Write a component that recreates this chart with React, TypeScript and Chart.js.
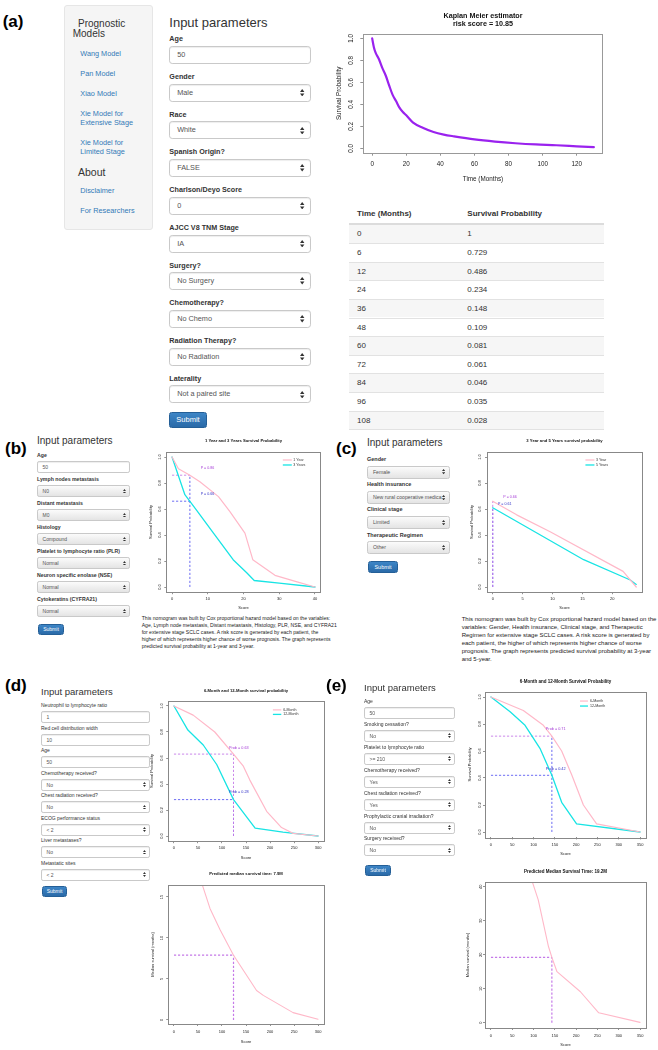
import React, { useEffect, useRef } from "react";
import { Chart, registerables } from "chart.js";

Chart.register(...registerables);

const FONT = "'Liberation Sans', Arial, Helvetica, sans-serif";

// ---------------- DATA ----------------
// (a) Kaplan-Meier estimate
const kmMonths = [0, 1, 2, 4, 6, 8, 10, 12, 14, 16, 18, 20, 24, 30, 36, 42, 48, 60, 72, 84, 96, 108, 120, 130];
const kmSurvival = [1, 0.92, 0.87, 0.81, 0.729, 0.66, 0.57, 0.486, 0.43, 0.37, 0.33, 0.3, 0.234, 0.185, 0.148, 0.125, 0.109, 0.081, 0.061, 0.046, 0.035, 0.028, 0.018, 0.01];
const kmXTicks = [0, 20, 40, 60, 80, 100, 120];
const probTicks = [0, 0.2, 0.4, 0.6, 0.8, 1.0];
const tableMonths = ["0", "6", "12", "24", "36", "48", "60", "72", "84", "96", "108"];
const tableProb = ["1", "0.729", "0.486", "0.234", "0.148", "0.109", "0.081", "0.061", "0.046", "0.035", "0.028"];

// (b) 1 year / 3 years
const b1Score = [0, 1.8, 5, 7.8, 13, 16.2, 20.4, 22.6, 28.8, 35, 40];
const b1Prob = [1, 0.91, 0.86, 0.81, 0.695, 0.58, 0.415, 0.21, 0.09, 0.04, 0.0];
const b3Score = [0, 3.6, 6.9, 11.6, 17.1, 20.9, 23, 30, 40];
const b3Prob = [1, 0.71, 0.59, 0.415, 0.21, 0.11, 0.05, 0.03, 0.0];
const bCut = 5;
const bP1 = 0.86;
const bP3 = 0.66;
const bXTicks = [0, 10, 20, 30, 40];

// (c) 3 years / 5 years
const c3Score = [0, 4, 9.6, 21.8, 24];
const c3Prob = [0.66, 0.555, 0.425, 0.12, 0.0];
const c5Score = [0, 15.2, 23, 24];
const c5Prob = [0.61, 0.21, 0.054, 0.02];
const cCut = 0;
const cP3 = 0.66;
const cP5 = 0.61;
const cXTicks = [0, 5, 10, 15, 20];

// (d) 6 / 12 months + median
const d6Score = [0, 40, 85, 124, 144, 158, 193, 224, 248, 300];
const d6Prob = [1, 0.93, 0.8, 0.63, 0.54, 0.43, 0.19, 0.065, 0.02, 0];
const d12Score = [0, 29, 61, 89, 124, 169, 227, 300];
const d12Prob = [1, 0.815, 0.7, 0.55, 0.28, 0.06, 0.03, 0];
const dCut = 124;
const dP6 = 0.63;
const dP12 = 0.28;
const dXTicks = [0, 50, 100, 150, 200, 250, 300];
const dMedScore = [55, 75, 96, 124, 172, 186, 248, 300];
const dMedMonths = [17.2, 13.6, 11.0, 7.9, 3.6, 3.0, 0.9, 0.1];
const dMedTicks = [0, 5, 10, 15];
const dMedian = 7.9;

// (e) 6 / 12 months + median
const e6Score = [0, 76, 123, 143, 166, 190, 217, 248, 350];
const e6Prob = [1, 0.9, 0.79, 0.71, 0.6, 0.42, 0.2, 0.06, 0];
const e12Score = [0, 45, 80, 115, 143, 166, 201, 350];
const e12Prob = [1, 0.89, 0.79, 0.62, 0.42, 0.22, 0.06, 0];
const eCut = 143;
const eP6 = 0.71;
const eP12 = 0.42;
const eXTicks = [0, 50, 100, 150, 200, 250, 300, 350];
const eMedScore = [93, 111, 135, 143, 155, 210, 253, 350];
const eMedMonths = [43, 36.1, 22.4, 19.2, 15.0, 9.1, 2.9, 0.1];
const eMedTicks = [0, 10, 20, 30, 40];
const eMedian = 19.2;

// form contents
const aFields: [string, string, boolean][] = [
  ["Age", "50", false], ["Gender", "Male", true], ["Race", "White", true], ["Spanish Origin?", "FALSE", true],
  ["Charlson/Deyo Score", "0", true], ["AJCC V8 TNM Stage", "IA", true], ["Surgery?", "No Surgery", true],
  ["Chemotherapy?", "No Chemo", true], ["Radiation Therapy?", "No Radiation", true], ["Laterality", "Not a paired site", true],
];
const bFields: [string, string, boolean][] = [
  ["Age", "50", false], ["Lymph nodes metastasis", "N0", true], ["Distant metastasis", "M0", true], ["Histology", "Compound", true],
  ["Platelet to lymphocyte ratio (PLR)", "Normal", true], ["Neuron specific enolase (NSE)", "Normal", true], ["Cytokeratins (CYFRA21)", "Normal", true],
];
const cFields: [string, string, boolean][] = [
  ["Gender", "Female", true], ["Health insurance", "New rural cooperative medica", true], ["Clinical stage", "Limited", true], ["Therapeutic Regimen", "Other", true],
];
const dFields: [string, string, boolean][] = [
  ["Neutrophil to lymphocyte ratio", "1", false], ["Red cell distribution width", "10", false], ["Age", "50", false],
  ["Chemotherapy received?", "No", true], ["Chest radiation received?", "No", true], ["ECOG performance status", "< 2", true],
  ["Liver metastases?", "No", true], ["Metastatic sites", "< 2", true],
];
const eFields: [string, string, boolean][] = [
  ["Age", "50", false], ["Smoking cessation?", "No", true], ["Platelet to lymphocyte ratio", ">= 210", true],
  ["Chemotherapy received?", "Yes", true], ["Chest radiation received?", "Yes", true], ["Prophylactic cranial irradiation?", "No", true],
  ["Surgery received?", "No", true],
];
const bText = [
  "This nomogram was built by Cox proportional hazard model based on the variables:",
  "Age, Lymph node metastasis, Distant metastasis, Histology, PLR, NSE, and CYFRA21",
  "for extensive stage SCLC cases. A risk score is generated by each patient, the",
  "higher of which represents higher chance of worse prognosis. The graph represents",
  "predicted survival probability at 1-year and 3-year.",
];
const cText = [
  "This nomogram was built by Cox proportional hazard model based on the",
  "variables: Gender, Health insurance, Clinical stage, and Therapeutic",
  "Regimen for extensive stage SCLC cases. A risk score is generated by",
  "each patient, the higher of which represents higher chance of worse",
  "prognosis. The graph represents predicted survival probability at 3-year",
  "and 5-year.",
];

// ---------------- STYLE ----------------
const PINK = "#ffb8c8";
const CYAN = "#18e4e4";
const PURPLE_DASH = "#c57ae8";
const BLUE_DASH = "#5c5cf2";
const LBL_PURPLE = "#a43ad6";
const LBL_BLUE = "#3232c8";
const KM_PURPLE = "#9a22ee";

type Pt = { x: number; y: number };
const zip = (xs: number[], ys: number[]): Pt[] => xs.map((x, i) => ({ x, y: ys[i] }));
const curve = (label: string, xs: number[], ys: number[], color: string, width: number, smooth = false) => ({
  label, data: zip(xs, ys), borderColor: color, borderWidth: width, pointRadius: 0, fill: false,
  tension: smooth ? 0.35 : 0, cubicInterpolationMode: smooth ? "monotone" : "default", borderJoinStyle: "round", borderCapStyle: "round",
});
const dash = (x1: number, y1: number, x2: number, y2: number, color: string, width = 0.9) => ({
  label: "", data: [{ x: x1, y: y1 }, { x: x2, y: y2 }], borderColor: color, borderWidth: width,
  borderDash: [2.2, 1.8], pointRadius: 0, fill: false, tension: 0,
});

type Spec = {
  canvas: { x: number; y: number; w: number; h: number };
  box: { l: number; t: number; r: number; b: number };
  title: string[]; titleSize: number; titleLH: number; titleY: number;
  tickSize: number; axisSize: number; tickLen: number;
  xMin: number; xMax: number; xTicks: number[]; xDec: number;
  yMin: number; yMax: number; yTicks: number[]; yDec: number;
  xTitle: string; yTitle: string;
  xTickY: number; yTickX: number; xTitleY: number; yTitleX: number;
  datasets: any[];
  texts?: { x: number; y: number; text: string; color: string; size: number }[];
  legend?: { x: number; y: number; rowH: number; lineLen: number; gap: number; size: number; items: number[] };
  boxColor?: string;
};

const rPlot = {
  id: "rPlot",
  afterDatasetsDraw(chart: any, _args: any, opts: any) {
    const { ctx, chartArea: a, scales } = chart;
    ctx.save();
    ctx.setLineDash([]);
    ctx.strokeStyle = opts.boxColor || "#888";
    ctx.lineWidth = 1;
    ctx.strokeRect(Math.round(a.left) + 0.5, Math.round(a.top) + 0.5, Math.round(a.right - a.left), Math.round(a.bottom - a.top));
    const xs = scales.x, ys = scales.y;
    (opts.texts || []).forEach((t: any) => {
      ctx.fillStyle = t.color;
      ctx.font = `${t.size}px ${FONT}`;
      ctx.textAlign = "center";
      ctx.textBaseline = "middle";
      ctx.fillText(t.text, xs.getPixelForValue(t.x), ys.getPixelForValue(t.y));
    });
    const lg = opts.legend;
    if (lg) {
      const x0 = xs.getPixelForValue(lg.x), y0 = ys.getPixelForValue(lg.y);
      ctx.font = `${lg.size}px ${FONT}`;
      ctx.textAlign = "left";
      ctx.textBaseline = "middle";
      lg.items.forEach((idx: number, i: number) => {
        const ds = chart.data.datasets[idx];
        const y = y0 + i * lg.rowH;
        ctx.strokeStyle = ds.borderColor;
        ctx.lineWidth = ds.borderWidth;
        ctx.beginPath();
        ctx.moveTo(x0, y);
        ctx.lineTo(x0 + lg.lineLen, y);
        ctx.stroke();
        ctx.fillStyle = "#333";
        ctx.fillText(ds.label, x0 + lg.lineLen + lg.gap, y);
      });
    }
    ctx.restore();
  },
};

function buildConfig(s: Spec): any {
  const mctx = document.createElement("canvas").getContext("2d")!;
  mctx.font = `${s.tickSize}px ${FONT}`;
  const widest = Math.max(...s.yTicks.map((v) => mctx.measureText(v.toFixed(s.yDec)).width));
  const lhT = s.tickSize * 1.2;
  const lhA = s.axisSize * 1.2;
  const cx0 = s.canvas.x, cy0 = s.canvas.y, cx1 = s.canvas.x + s.canvas.w, cy1 = s.canvas.y + s.canvas.h;
  const tPadTop = s.titleY - cy0 - s.titleLH / 2;
  const tPadBottom = s.box.t - cy0 - tPadTop - s.title.length * s.titleLH;
  const gridOpts = { drawOnChartArea: false, drawTicks: true, tickLength: s.tickLen, color: "#777", lineWidth: 0.8 };
  return {
    type: "line",
    data: { datasets: s.datasets },
    options: {
      responsive: false, animation: false, events: [], devicePixelRatio: 1,
      layout: { padding: { left: 0, top: 0, bottom: 0, right: cx1 - s.box.r } },
      plugins: {
        legend: { display: false },
        tooltip: { enabled: false },
        title: {
          display: true, fullSize: false, text: s.title, color: "#111",
          font: { family: FONT, size: s.titleSize, weight: "bold", lineHeight: s.titleLH / s.titleSize },
          padding: { top: tPadTop, bottom: tPadBottom },
        },
        rPlot: { texts: s.texts || [], legend: s.legend, boxColor: s.boxColor },
      },
      scales: {
        x: {
          type: "linear", min: s.xMin, max: s.xMax,
          afterBuildTicks: (ax: any) => { ax.ticks = s.xTicks.map((v) => ({ value: v })); },
          afterFit: (ax: any) => { ax.height = cy1 - s.box.b; },
          grid: gridOpts, border: { display: false },
          ticks: {
            font: { family: FONT, size: s.tickSize }, color: "#222", autoSkip: false, maxRotation: 0, minRotation: 0,
            padding: s.xTickY - s.box.b - s.tickLen - lhT / 2,
            callback: (v: any) => Number(v).toFixed(s.xDec),
          },
          title: { display: true, text: s.xTitle, color: "#222", font: { family: FONT, size: s.axisSize }, padding: { top: 0, bottom: cy1 - s.xTitleY - lhA / 2 } },
        },
        y: {
          type: "linear", min: s.yMin, max: s.yMax,
          afterBuildTicks: (ax: any) => { ax.ticks = s.yTicks.map((v) => ({ value: v })); },
          afterFit: (ax: any) => { ax.width = s.box.l - cx0; },
          grid: gridOpts, border: { display: false },
          ticks: {
            font: { family: FONT, size: s.tickSize }, color: "#222", autoSkip: false, minRotation: 90, maxRotation: 90, crossAlign: "center",
            padding: Math.max(0, s.box.l - s.tickLen - widest / 2 - s.yTickX),
            callback: (v: any) => Number(v).toFixed(s.yDec),
          },
          title: { display: true, text: s.yTitle, color: "#222", font: { family: FONT, size: s.axisSize }, padding: { top: s.yTitleX - cx0 - lhA / 2, bottom: 0 } },
        },
      },
    },
    plugins: [rPlot],
  };
}

function RChart({ spec }: { spec: Spec }) {
  const ref = useRef<HTMLCanvasElement>(null);
  useEffect(() => {
    const chart = new Chart(ref.current!, buildConfig(spec));
    return () => chart.destroy();
  }, []);
  return (
    <canvas ref={ref} width={spec.canvas.w} height={spec.canvas.h}
      style={{ position: "absolute", left: spec.canvas.x, top: spec.canvas.y, width: spec.canvas.w, height: spec.canvas.h }} />
  );
}

// ---------------- CHART SPECS ----------------
const kmSpec: Spec = {
  canvas: { x: 320, y: 0, w: 300, h: 190 }, box: { l: 363.3, t: 34, r: 602.7, b: 152.7 },
  title: ["Kaplan Meier estimator", "risk score = 10.85"], titleSize: 7.2, titleLH: 8.6, titleY: 15.7,
  tickSize: 6.3, axisSize: 6.3, tickLen: 3,
  xMin: -5.2, xMax: 135.2, xTicks: kmXTicks, xDec: 0, yMin: -0.04, yMax: 1.04, yTicks: probTicks, yDec: 1,
  xTitle: "Time (Months)", yTitle: "Survival Probability", xTickY: 164, yTickX: 351.7, xTitleY: 179, yTitleX: 339,
  datasets: [curve("KM", kmMonths, kmSurvival, KM_PURPLE, 2.2, true)], boxColor: "#999",
};

const smallBase = { tickSize: 4, axisSize: 4, tickLen: 2, titleSize: 4.2, titleLH: 5, xDec: 0, yDec: 1, yMin: -0.04, yMax: 1.04, yTicks: probTicks, boxColor: "#888" };

const bSpec: Spec = {
  ...smallBase,
  canvas: { x: 138, y: 434, w: 192, h: 180 }, box: { l: 166.3, t: 451.8, r: 320.7, b: 592.2 },
  title: ["1 Year and 3 Years Survival Probability"], titleY: 441,
  xMin: -1.6, xMax: 41.6, xTicks: bXTicks,
  xTitle: "Score", yTitle: "Survival Probability", xTickY: 598.5, yTickX: 160, xTitleY: 608, yTitleX: 150.7,
  datasets: [
    curve("1 Year", b1Score, b1Prob, PINK, 1.2), curve("3 Years", b3Score, b3Prob, CYAN, 1.3),
    dash(bCut, 0, bCut, bP1, BLUE_DASH), dash(0, bP1, bCut, bP1, PURPLE_DASH), dash(0, bP3, bCut, bP3, BLUE_DASH),
  ],
  texts: [
    { x: 9.9, y: 0.913, text: "P = " + bP1.toFixed(2), color: LBL_PURPLE, size: 3.6 },
    { x: 9.9, y: 0.713, text: "P = " + bP3.toFixed(2), color: LBL_BLUE, size: 3.6 },
  ],
  legend: { x: 31.0, y: 0.977, rowH: 5, lineLen: 9, gap: 1.5, size: 3.6, items: [0, 1] },
};

const cSpec: Spec = {
  ...smallBase,
  canvas: { x: 458, y: 434, w: 195, h: 180 }, box: { l: 487, t: 451.8, r: 642, b: 592.2 },
  title: ["3 Year and 5 Years survival probability"], titleY: 441,
  xMin: -0.96, xMax: 24.96, xTicks: cXTicks,
  xTitle: "Score", yTitle: "Survival Probability", xTickY: 598.5, yTickX: 480, xTitleY: 608, yTitleX: 471.7,
  datasets: [
    curve("3 Year", c3Score, c3Prob, PINK, 1.2), curve("5 Years", c5Score, c5Prob, CYAN, 1.3),
    dash(cCut, 0, cCut, cP3, PURPLE_DASH), dash(cCut, 0, cCut, cP5, BLUE_DASH),
  ],
  texts: [
    { x: 2.9, y: 0.69, text: "P = " + cP3.toFixed(2), color: LBL_PURPLE, size: 3.6 },
    { x: 2.0, y: 0.635, text: "P = " + cP5.toFixed(2), color: LBL_BLUE, size: 3.6 },
  ],
  legend: { x: 15.5, y: 0.977, rowH: 5, lineLen: 9, gap: 1.5, size: 3.6, items: [0, 1] },
};

const dTopSpec: Spec = {
  ...smallBase,
  canvas: { x: 138, y: 680, w: 195, h: 185 }, box: { l: 168.2, t: 700.8, r: 323.8, b: 841.2 },
  title: ["6-Month and 12-Month survival probability"], titleY: 691,
  xMin: -12, xMax: 312, xTicks: dXTicks,
  xTitle: "Score", yTitle: "Survival Probability", xTickY: 848, yTickX: 161.7, xTitleY: 858, yTitleX: 151.7,
  datasets: [
    curve("6-Month", d6Score, d6Prob, PINK, 1.2), curve("12-Month", d12Score, d12Prob, CYAN, 1.3),
    dash(dCut, 0, dCut, dP6, PURPLE_DASH), dash(dCut, 0, dCut, dP12, BLUE_DASH),
    dash(0, dP6, dCut, dP6, PURPLE_DASH), dash(0, dP12, dCut, dP12, BLUE_DASH),
  ],
  texts: [
    { x: 135, y: 0.677, text: "Prob = " + dP6.toFixed(2), color: LBL_PURPLE, size: 3.8 },
    { x: 135, y: 0.338, text: "Prob = " + dP12.toFixed(2), color: LBL_BLUE, size: 3.8 },
  ],
  legend: { x: 206, y: 0.97, rowH: 4.5, lineLen: 8.4, gap: 2, size: 3.6, items: [0, 1] },
};

const dBotSpec: Spec = {
  ...smallBase,
  canvas: { x: 138, y: 866, w: 195, h: 184 }, box: { l: 168.2, t: 885, r: 323.8, b: 1024 },
  title: ["Predicted median survival time: " + dMedian + "M"], titleY: 874,
  xMin: -12, xMax: 312, xTicks: dXTicks, yMin: -0.49, yMax: 16.46, yTicks: dMedTicks, yDec: 0,
  xTitle: "Score", yTitle: "Median survival (months)", xTickY: 1032, yTickX: 161.7, xTitleY: 1042, yTitleX: 152.7,
  datasets: [
    curve("median", dMedScore, dMedMonths, PINK, 1.1),
    dash(0, dMedian, dCut, dMedian, PURPLE_DASH, 1.2), dash(dCut, 0, dCut, dMedian, PURPLE_DASH, 1.2),
  ],
};

const eTopSpec: Spec = {
  ...smallBase, titleSize: 4.5, titleLH: 5.4,
  canvas: { x: 455, y: 672, w: 200, h: 190 }, box: { l: 485, t: 691.6, r: 646, b: 837.4 },
  title: ["6-Month and 12-Month Survival Probability"], titleY: 682,
  xMin: -14, xMax: 364, xTicks: eXTicks,
  xTitle: "Score", yTitle: "Survival Probability", xTickY: 845, yTickX: 480.7, xTitleY: 854, yTitleX: 470,
  datasets: [
    curve("6-Month", e6Score, e6Prob, PINK, 1.2), curve("12-Month", e12Score, e12Prob, CYAN, 1.3),
    dash(eCut, 0, eCut, eP6, BLUE_DASH), dash(0, eP6, eCut, eP6, PURPLE_DASH), dash(0, eP12, eCut, eP12, BLUE_DASH),
  ],
  texts: [
    { x: 152, y: 0.76, text: "Prob = " + eP6.toFixed(2), color: LBL_PURPLE, size: 3.8 },
    { x: 152, y: 0.47, text: "Prob = " + eP12.toFixed(2), color: LBL_BLUE, size: 3.8 },
  ],
  legend: { x: 209, y: 0.97, rowH: 5, lineLen: 8, gap: 2, size: 3.6, items: [0, 1] },
};

const eBotSpec: Spec = {
  ...smallBase, titleSize: 4.5, titleLH: 5.4,
  canvas: { x: 455, y: 864, w: 200, h: 186 }, box: { l: 485, t: 882, r: 646, b: 1028 },
  title: ["Predicted Median Survival Time: " + eMedian + "M"], titleY: 872,
  xMin: -14, xMax: 364, xTicks: eXTicks, yMin: -1.56, yMax: 41.38, yTicks: eMedTicks, yDec: 0,
  xTitle: "Score", yTitle: "Median survival (months)", xTickY: 1036, yTickX: 480.7, xTitleY: 1045, yTitleX: 468,
  datasets: [
    curve("median", eMedScore, eMedMonths, PINK, 1.1),
    dash(0, eMedian, eCut, eMedian, PURPLE_DASH, 1.2), dash(eCut, 0, eCut, eMedian, PURPLE_DASH, 1.2),
  ],
};

// ---------------- HTML PIECES ----------------
function T({ x, cy, size, children, color = "#333", weight = 400, style = {} }: any) {
  return (
    <div style={{ position: "absolute", left: x, top: cy - size * 0.6, fontSize: size, lineHeight: `${size * 1.2}px`, color, fontWeight: weight, fontFamily: FONT, whiteSpace: "nowrap", ...style }}>
      {children}
    </div>
  );
}

function SelectArrow({ h }: { h: number }) {
  const k = h / 18;
  const w = 4.4 * k, hh = 7.4 * k, th = 2.9 * k;
  return (
    <svg width={w} height={hh} style={{ position: "absolute", right: h * 0.28, top: (h - 2 - hh) / 2 }}>
      <polygon points={`0,${th} ${w / 2},0 ${w},${th}`} fill="#333" />
      <polygon points={`0,${hh - th} ${w},${hh - th} ${w / 2},${hh}`} fill="#333" />
    </svg>
  );
}

function Box({ x, y, w, h, value, select, valueSize, gray }: any) {
  return (
    <div style={{
      position: "absolute", left: x, top: y, width: w, height: h, boxSizing: "border-box", border: "1px solid #c9c9c9",
      borderRadius: Math.max(2, h * 0.18), background: gray ? "linear-gradient(#fbfbfb,#e4e4e4)" : "#fff",
      boxShadow: gray ? "none" : "inset 0 1px 1px rgba(0,0,0,0.07)",
    }}>
      <div style={{ position: "absolute", left: h * 0.38, top: 0, lineHeight: `${h - 2}px`, fontSize: valueSize, color: "#555", fontFamily: FONT, whiteSpace: "nowrap" }}>{value}</div>
      {select && <SelectArrow h={h} />}
    </div>
  );
}

function Form({ x, w, firstY, step, offset, h, fields, labelSize, valueSize, labelWeight, gray }: any) {
  return (
    <>
      {fields.map(([label, value, sel]: [string, string, boolean], i: number) => {
        const cy = firstY + i * step;
        return (
          <React.Fragment key={i}>
            <T x={x} cy={cy} size={labelSize} weight={labelWeight} color="#333">{label}</T>
            <Box x={x} y={cy + offset} w={w} h={h} value={value} select={sel} valueSize={valueSize} gray={gray && sel} />
          </React.Fragment>
        );
      })}
    </>
  );
}

function Submit({ x, y, w, h, size }: any) {
  return (
    <div style={{
      position: "absolute", left: x, top: y, width: w, height: h, boxSizing: "border-box", borderRadius: 2.5,
      background: "linear-gradient(#3d85c6,#2a6aa8)", border: "1px solid #245f97", color: "#fff", fontFamily: FONT,
      fontSize: size, lineHeight: `${h - 2}px`, textAlign: "center",
    }}>Submit</div>
  );
}

function PanelLabel({ x, cy, text }: any) {
  return <T x={x} cy={cy} size={17} weight={700} color="#000">{text}</T>;
}

function Sidebar() {
  const link = { color: "#337ab7" };
  return (
    <>
      <div style={{ position: "absolute", left: 64, top: 5, width: 89, height: 225, boxSizing: "border-box", background: "#f5f5f5", border: "1px solid #e6e6e6", borderRadius: 3 }} />
      <T x={78} cy={24.3} size={10}>Prognostic</T>
      <T x={72.7} cy={34.3} size={10}>Models</T>
      <T x={80.3} cy={54.3} size={7.3} style={link}>Wang Model</T>
      <T x={80.3} cy={74} size={7.3} style={link}>Pan Model</T>
      <T x={80.3} cy={94.3} size={7.3} style={link}>Xiao Model</T>
      <T x={80.3} cy={114.3} size={7.3} style={link}>Xie Model for</T>
      <T x={80.3} cy={123.3} size={7.3} style={link}>Extensive Stage</T>
      <T x={80.3} cy={143} size={7.3} style={link}>Xie Model for</T>
      <T x={80.3} cy={152} size={7.3} style={link}>Limited Stage</T>
      <T x={78} cy={172} size={10.5}>About</T>
      <T x={80.3} cy={191.7} size={7.3} style={link}>Disclaimer</T>
      <T x={80.3} cy={211.3} size={7.3} style={link}>For Researchers</T>
    </>
  );
}

function KMTable() {
  const x = 349, w = 255, top0 = 224.5, rowH = 18.6;
  return (
    <>
      <T x={357} cy={214} size={8} weight={700}>Time (Months)</T>
      <T x={467.3} cy={214} size={8} weight={700}>Survival Probability</T>
      <div style={{ position: "absolute", left: x, top: top0 - 2, width: w, height: 2, background: "#dcdcdc" }} />
      {tableMonths.map((m, i) => (
        <div key={i} style={{ position: "absolute", left: x, top: top0 + i * rowH, width: w, height: rowH, boxSizing: "border-box", borderTop: i ? "1px solid #e2e2e2" : "none", background: i % 2 === 0 ? "#f6f6f6" : "#fff" }}>
          <div style={{ position: "absolute", left: 8, top: 0, lineHeight: `${rowH}px`, fontSize: 8, color: "#333", fontFamily: FONT }}>{m}</div>
          <div style={{ position: "absolute", left: 118.3, top: 0, lineHeight: `${rowH}px`, fontSize: 8, color: "#333", fontFamily: FONT }}>{tableProb[i]}</div>
        </div>
      ))}
      <div style={{ position: "absolute", left: x, top: top0 + 11 * rowH, width: w, height: 1, background: "#e2e2e2" }} />
    </>
  );
}

function Para({ x, top, size, lh, lines }: any) {
  return (
    <div style={{ position: "absolute", left: x, top, fontSize: size, lineHeight: `${lh}px`, color: "#222", fontFamily: FONT, whiteSpace: "nowrap" }}>
      {lines.map((l: string, i: number) => <div key={i}>{l}</div>)}
    </div>
  );
}

export default function App() {
  return (
    <div style={{ position: "absolute", left: 0, top: 0, width: 658, height: 1050, background: "#fff", overflow: "hidden", fontFamily: FONT }}>
      {/* (a) */}
      <PanelLabel x={2.7} cy={21.7} text="(a)" />
      <Sidebar />
      <T x={169.3} cy={22.7} size={13} color="#333">Input parameters</T>
      <Form x={169.3} w={141.4} firstY={39.7} step={37.7} offset={6.3} h={18} fields={aFields} labelSize={7.2} valueSize={7.3} labelWeight={700} gray={false} />
      <Submit x={169.3} y={411.7} w={37.4} h={16.6} size={7.5} />
      <RChart spec={kmSpec} />
      <KMTable />

      {/* (b) */}
      <PanelLabel x={5} cy={449} text="(b)" />
      <T x={37} cy={441} size={10}>Input parameters</T>
      <Form x={37} w={93} firstY={455} step={24} offset={6} h={12} fields={bFields} labelSize={5.2} valueSize={5} labelWeight={700} gray={true} />
      <Submit x={38} y={624} w={26} h={11} size={5} />
      <RChart spec={bSpec} />
      <Para x={141.7} top={614.8} size={5.1} lh={7.1} lines={bText} />

      {/* (c) */}
      <PanelLabel x={336} cy={449} text="(c)" />
      <T x={367} cy={443} size={10}>Input parameters</T>
      <Form x={367} w={83} firstY={459} step={25.3} offset={6.5} h={13} fields={cFields} labelSize={5.5} valueSize={5.2} labelWeight={700} gray={true} />
      <Submit x={368} y={561} w={30} h={12} size={5.5} />
      <RChart spec={cSpec} />
      <Para x={461.7} top={615.3} size={6} lh={8} lines={cText} />

      {/* (d) */}
      <PanelLabel x={5} cy={686} text="(d)" />
      <T x={41} cy={692} size={9.5}>Input parameters</T>
      <Form x={41} w={109} firstY={705} step={22.5} offset={6} h={12} fields={dFields} labelSize={5} valueSize={5} labelWeight={400} gray={false} />
      <Submit x={42} y={886} w={25} h={11} size={5} />
      <RChart spec={dTopSpec} />
      <RChart spec={dBotSpec} />

      {/* (e) */}
      <PanelLabel x={326} cy={686} text="(e)" />
      <T x={364} cy={688} size={9.5}>Input parameters</T>
      <Form x={364} w={91} firstY={701} step={22.9} offset={6} h={12} fields={eFields} labelSize={5} valueSize={5} labelWeight={400} gray={false} />
      <Submit x={365} y={865} w={26} h={11} size={5} />
      <RChart spec={eTopSpec} />
      <RChart spec={eBotSpec} />
    </div>
  );
}
